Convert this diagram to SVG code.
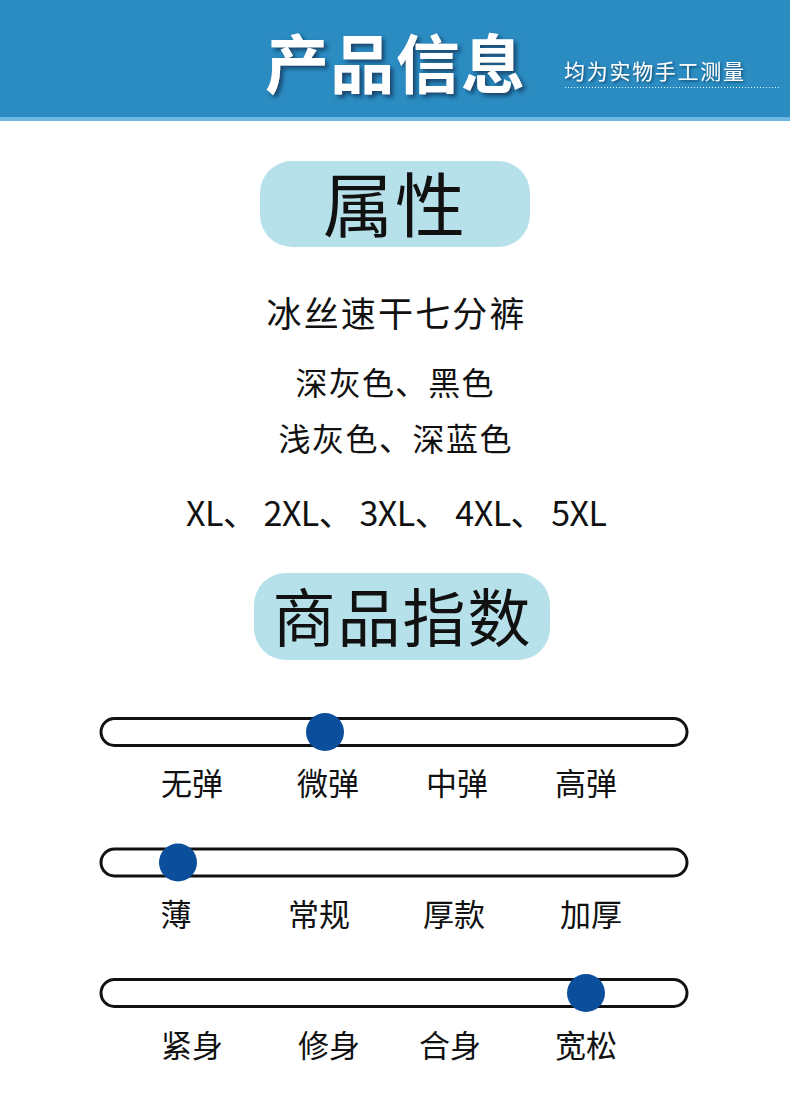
<svg xmlns="http://www.w3.org/2000/svg" width="790" height="1098" viewBox="0 0 790 1098">
<defs>
<style>
.cjk{font-family:"Noto Sans CJK SC","Noto Sans",sans-serif;fill:#111;}
.pill{fill:#b6e0ea;}
.track{fill:#fff;stroke:#111;stroke-width:3;}
.knob{fill:#0b4e9c;}
.lbl{font-size:31px;text-anchor:middle;}
</style>
<filter id="sh" x="-10%" y="-20%" width="130%" height="150%">
<feDropShadow dx="3" dy="3" stdDeviation="2" flood-color="#0a2f4f" flood-opacity="0.75"/>
</filter>
<filter id="sh2" x="-10%" y="-20%" width="130%" height="160%">
<feDropShadow dx="1.5" dy="1.5" stdDeviation="1" flood-color="#0a2f4f" flood-opacity="0.7"/>
</filter>
</defs>
<rect width="790" height="1098" fill="#fff"/>
<g id="header">
<rect x="0" y="0" width="790" height="121" fill="#2b8cc2"/>
<rect x="0" y="117" width="790" height="4" fill="#6cb9e2"/>
<text x="265" y="88" class="cjk" font-size="64" font-weight="bold" style="fill:#fff" textLength="260" filter="url(#sh)">产品信息</text>
<text x="564" y="79" class="cjk" font-size="21" style="fill:#fff" textLength="180" filter="url(#sh2)">均为实物手工测量</text>
<line x1="565" y1="87.5" x2="779" y2="87.5" stroke="#fff" stroke-width="1" stroke-dasharray="1,2" opacity="0.9"/>
</g>
<g id="section-attr">
<rect class="pill" x="260" y="161" width="270" height="86" rx="32"/>
<text class="cjk" x="394" y="232" font-size="70" text-anchor="middle" textLength="142">属性</text>
</g>
<g id="attr-lines">
<text class="cjk" x="395.5" y="327" font-size="35" text-anchor="middle" textLength="258">冰丝速干七分裤</text>
<text class="cjk" x="394.5" y="395" font-size="32" text-anchor="middle" textLength="198">深灰色、黑色</text>
<text class="cjk" x="395" y="451" font-size="32" text-anchor="middle" textLength="233">浅灰色、深蓝色</text>
<text class="cjk" x="186" y="526" font-size="34" textLength="421">XL、 2XL、 3XL、 4XL、 5XL</text>
</g>
<g id="section-index">
<rect class="pill" x="254" y="573" width="296" height="87" rx="32"/>
<text class="cjk" x="401.5" y="641" font-size="63" text-anchor="middle" textLength="258">商品指数</text>
</g>
<g id="slider-elastic">
<rect class="track" x="101" y="718.5" width="586" height="27" rx="13.5"/>
<circle class="knob" cx="325" cy="732" r="19"/>
<text class="cjk lbl" x="192" y="795">无弹</text>
<text class="cjk lbl" x="328" y="795">微弹</text>
<text class="cjk lbl" x="457" y="795">中弹</text>
<text class="cjk lbl" x="586" y="795">高弹</text>
</g>
<g id="slider-thickness">
<rect class="track" x="101" y="849" width="586" height="27" rx="13.5"/>
<circle class="knob" cx="178" cy="862.5" r="19"/>
<text class="cjk lbl" x="176" y="926">薄</text>
<text class="cjk lbl" x="319" y="926">常规</text>
<text class="cjk lbl" x="454" y="926">厚款</text>
<text class="cjk lbl" x="591" y="926">加厚</text>
</g>
<g id="slider-fit">
<rect class="track" x="101" y="979.5" width="586" height="27" rx="13.5"/>
<circle class="knob" cx="586" cy="993" r="19"/>
<text class="cjk lbl" x="192" y="1057">紧身</text>
<text class="cjk lbl" x="329" y="1057">修身</text>
<text class="cjk lbl" x="450" y="1057">合身</text>
<text class="cjk lbl" x="586" y="1057">宽松</text>
</g>
<g id="connectors"></g>
</svg>
